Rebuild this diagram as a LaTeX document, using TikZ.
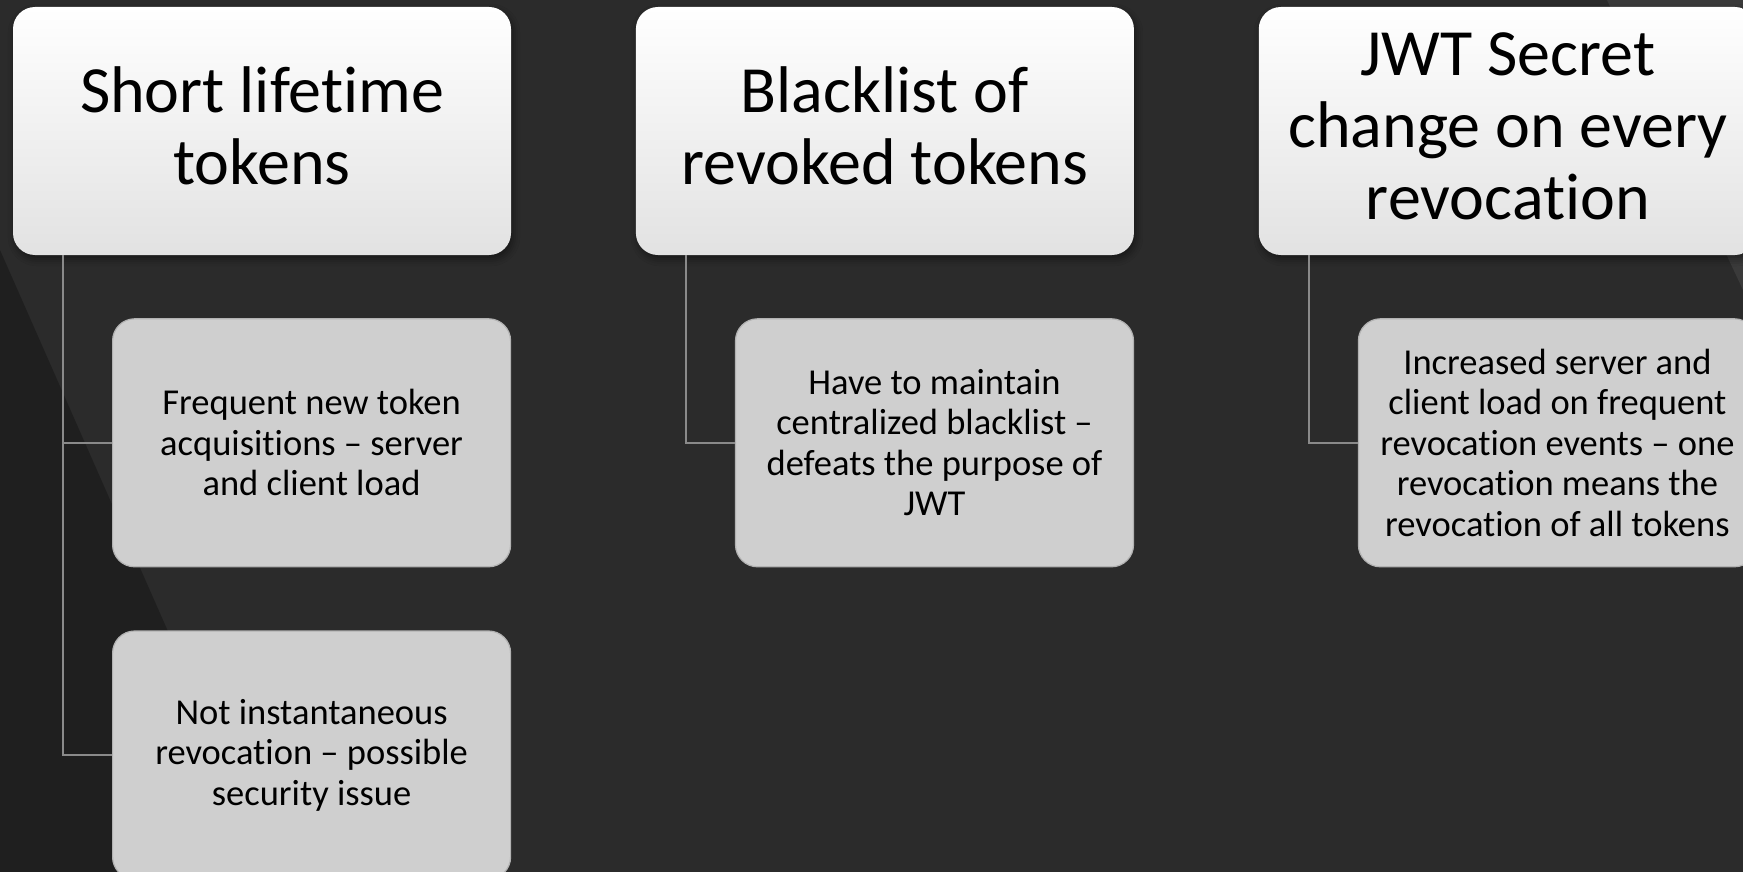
\documentclass[tikz,border=0pt]{standalone}
\usepackage{fontspec}
\setmainfont[Ligatures={TeX,NoCommon}]{Carlito}
\usetikzlibrary{positioning, shadows.blur}
\definecolor{bgcol}{HTML}{2B2B2B}
\definecolor{bgdark}{HTML}{1F1F1F}
\definecolor{bglight}{HTML}{3A3A3A}
\definecolor{hdbot}{HTML}{E2E2E2}
\definecolor{leaffill}{HTML}{CFCFCF}
\definecolor{leafdraw}{HTML}{B2B2B2}
\definecolor{linkcol}{HTML}{8A8A8A}

\begin{document}
\begin{tikzpicture}[x=1pt,y=-1pt,node distance=124.5pt,
			head/.style = {rounded corners=22pt,minimum width=498pt,minimum height=248pt,inner sep=0pt,align=center,
				top color=white,middle color=white,bottom color=hdbot,font=\fontsize{66}{72}\selectfont,text depth=10pt,
				blur shadow={shadow xshift=2pt,shadow yshift=-4pt,shadow blur radius=7pt,shadow opacity=45}},
			leaf/.style = {rounded corners=22pt,minimum width=398pt,minimum height=248pt,inner sep=0pt,align=center,
				fill=leaffill,draw=leafdraw,line width=1.2pt,font=\fontsize{36.5}{40.5}\selectfont},
			link/.style = {draw=linkcol,line width=2pt}]
			\fill[bgcol] (0,0) rectangle (1743,872);
			\fill[bgdark] (0,250) -- (274,872) -- (0,872) -- cycle;
			\fill[bglight] (1607,0) -- (1743,0) -- (1743,290) -- cycle;
			\useasboundingbox (0,0) rectangle (1743,872);
			\node [head] (short) at (262,131) {Short lifetime\\tokens};
			\node [head, right=of short] (black) {Blacklist of\\revoked tokens};
			\node [head, right=of black] (secret) {JWT Secret\\change on every\\revocation};
			\node [leaf, anchor=north east] (load) at ([yshift=-63pt]short.south east) {Frequent new token\\acquisitions -- server\\and client load};
			\node [leaf, below=63pt of load] (instant) {Not instantaneous\\revocation -- possible\\security issue};
			\node [leaf, anchor=north east] (central) at ([yshift=-63pt]black.south east) {Have to maintain\\centralized blacklist --\\defeats the purpose of\\JWT};
			\node [leaf, anchor=north east] (events) at ([yshift=-63pt]secret.south east) {Increased server and\\client load on frequent\\revocation events -- one\\revocation means the\\revocation of all tokens};
			\draw [link] ([xshift=50pt]short.south west) |- (load.west);
			\draw [link] ([xshift=50pt]short.south west) |- (instant.west);
			\draw [link] ([xshift=50pt]black.south west) |- (central.west);
			\draw [link] ([xshift=50pt]secret.south west) |- (events.west);
		\end{tikzpicture}
\end{document}
